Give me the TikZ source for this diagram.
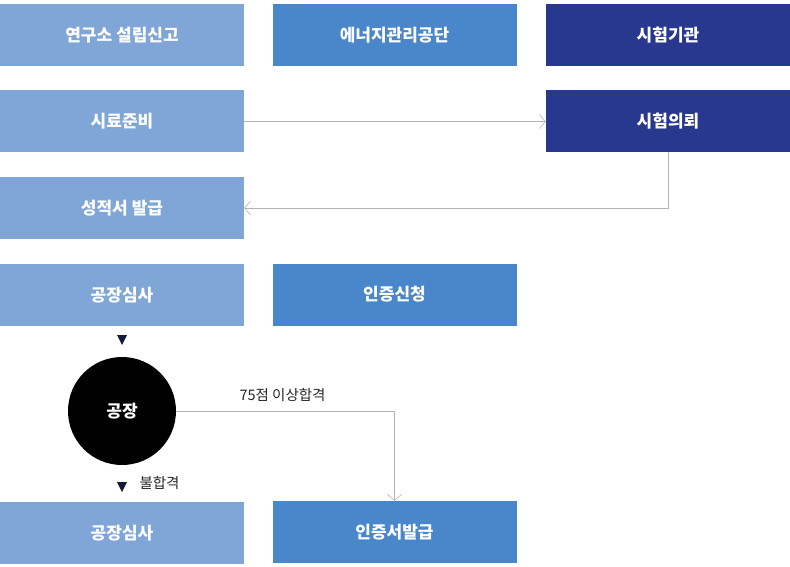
\documentclass[tikz,border=0pt]{standalone}
\usepackage{fontspec}
\setmainfont{Noto Sans CJK KR}
\usetikzlibrary{arrows.meta}
\definecolor{lightbox}{HTML}{7FA6D6}
\definecolor{midbox}{HTML}{4A86CA}
\definecolor{darkbox}{HTML}{28388F}
\definecolor{linegray}{HTML}{B4B4B4}
\definecolor{tricolor}{HTML}{141A3A}
\begin{document}
\begin{tikzpicture}[x=1pt,y=-1pt,
    box/.style={minimum width=244pt, minimum height=62pt, inner sep=0pt, text=white, font=\fontsize{17}{20}\selectfont\bfseries},
    conn/.style={draw=linegray, line width=0.8pt, -{Straight Barb[length=6pt,width=14pt,line width=0.6pt]}},
    small/.style={font=\fontsize{14.5}{17}\selectfont, text=black!85}]
        \useasboundingbox (0,0) rectangle (790,567);

        % Research institute column
        \node[box, fill=lightbox] (found) at (122,35) {연구소 설립신고};
        \node[box, fill=lightbox] (prep) at (122,121.5) {시료준비};
        \node[box, fill=lightbox] (cert) at (122,208) {성적서 발급};
        \node[box, fill=lightbox] (audit) at (122,295) {공장심사};
        \node[box, fill=lightbox] (reaudit) at (122,533) {공장심사};

        % Energy agency column
        \node[box, fill=midbox] (agency) at (394.5,35) {에너지관리공단};
        \node[box, fill=midbox] (apply) at (394.5,294.5) {인증신청};
        \node[box, fill=midbox] (issue) at (394.5,532) {인증서발급};

        % Test lab column
        \node[box, fill=darkbox] (lab) at (668,35) {시험기관};
        \node[box, fill=darkbox] (req) at (668,121) {시험의뢰};

        % Factory decision
        \node[circle, fill=black, minimum size=108pt, inner sep=0pt, text=white, font=\fontsize{17}{20}\selectfont\bfseries] (factory) at (122,411) {공장};
        \fill[tricolor] (117,335) -- (127,335) -- (122,345) -- cycle;
        \fill[tricolor] (117,482) -- (127,482) -- (122,492) -- cycle;
        \node[small, anchor=west] (fail) at (136,483) {불합격};

        % Connectors
        \draw[conn] (prep.east) -- (prep.east -| req.west);
        \draw[conn] (req.south) |- (cert.east);
        \draw[conn] (factory.east) -| (issue.north);
        \node[small, anchor=west] (pass) at (236,395) {75점 이상합격};
\end{tikzpicture}
\end{document}
